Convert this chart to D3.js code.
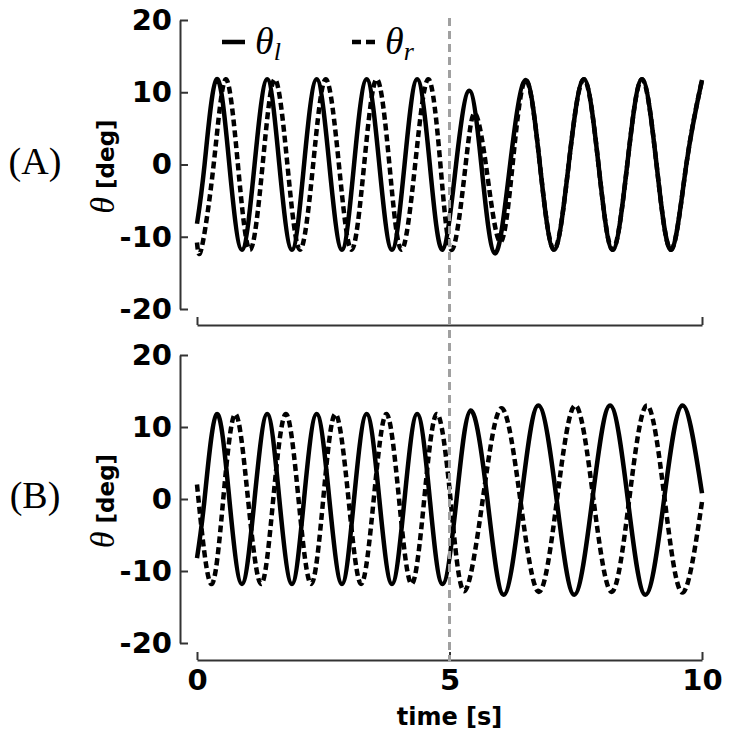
<!DOCTYPE html>
<html>
<head>
<meta charset="utf-8">
<script src="https://cdn.jsdelivr.net/npm/d3@7"></script>
<style>
body { margin: 0; background: #fff; }
.tick text { font-family: "DejaVu Sans"; font-weight: bold; font-size: 29px; fill: #000; }
.domain, .tick line { stroke: #333; stroke-width: 2; }
</style>
</head>
<body>
<svg id="chart" width="729" height="738"></svg>
<script>

/// Data (extrema and zero crossings)

var timeTicks = [0, 5, 10];
var thetaTicks = [-20, -10, 0, 10, 20];
var switchTime = 5;

// panel (A), theta_l
var aLeftT = [0, 0.15, 0.39, 0.64, 0.89, 1.14, 1.39, 1.63, 1.88, 2.12, 2.37, 2.62, 2.87, 3.11, 3.36, 3.61, 3.86, 4.11, 4.36, 4.61, 4.86,
  5.13, 5.39, 5.63, 5.90, 6.20, 6.51, 6.79, 7.07, 7.36, 7.66, 7.95, 8.23, 8.52, 8.81, 9.10, 9.39, 9.69, 10.0];
var aLeftTheta = [-8.2, 0, 11.8, 0, -11.8, 0, 11.8, 0, -11.8, 0, 11.8, 0, -11.8, 0, 11.8, 0, -11.8, 0, 11.8, 0, -11.8,
  0, 10.2, 0, -12.3, 0, 11.7, 0, -11.8, 0, 11.8, 0, -11.8, 0, 11.8, 0, -11.8, 0, 11.7];

// panel (A), theta_r
var aRightT = [0, 0.09, 0.33, 0.57, 0.81, 1.05, 1.30, 1.54, 1.79, 2.04, 2.30, 2.55, 2.81, 3.06, 3.31, 3.56, 3.81, 4.05, 4.32, 4.58, 4.82,
  5.05, 5.32, 5.50, 5.72, 6.00, 6.25, 6.51, 6.79, 7.07, 7.36, 7.66, 7.95, 8.23, 8.52, 8.81, 9.10, 9.39, 9.69, 10.0];
var aRightTheta = [-10.8, -11.6, 0, 11.8, 0, -11.8, 0, 11.8, 0, -11.8, 0, 11.8, 0, -11.8, 0, 11.8, 0, -11.8, 0, 11.8, 0,
  -11.8, 0, 7.1, 0, -10.7, 0, 11.7, 0, -11.8, 0, 11.8, 0, -11.8, 0, 11.8, 0, -11.8, 0, 11.7];

// panel (B), theta_l
var bLeftT = [0, 0.15, 0.39, 0.64, 0.89, 1.14, 1.39, 1.63, 1.88, 2.12, 2.37, 2.62, 2.87, 3.11, 3.36, 3.61, 3.86, 4.11, 4.36, 4.61, 4.86,
  5.14, 5.42, 5.75, 6.07, 6.42, 6.76, 7.12, 7.47, 7.83, 8.18, 8.53, 8.88, 9.25, 9.61, 10.0];
var bLeftTheta = [-8.2, 0, 11.8, 0, -11.8, 0, 11.8, 0, -11.8, 0, 11.8, 0, -11.8, 0, 11.8, 0, -11.8, 0, 11.8, 0, -11.8,
  0, 12.3, 0, -13.3, 0, 13.0, 0, -13.3, 0, 13.0, 0, -13.3, 0, 13.0, 0.8];

// panel (B), theta_r
var bRightT = [0, 0.28, 0.52, 0.76, 1.01, 1.27, 1.51, 1.76, 2.01, 2.26, 2.50, 2.74, 3.00, 3.25, 3.50, 3.75, 4.00, 4.25, 4.50, 4.75,
  5.02, 5.29, 5.66, 6.03, 6.40, 6.77, 7.13, 7.49, 7.85, 8.21, 8.56, 8.91, 9.26, 9.61, 10.0];
var bRightTheta = [2.0, -11.8, 0, 11.8, 0, -11.8, 0, 11.8, 0, -11.8, 0, 11.8, 0, -11.8, 0, 11.8, 0, -11.8, 0, 11.8,
  0, -12.8, 0, 12.6, 0, -12.9, 0, 13.0, 0, -12.9, 0, 13.0, 0, -13.0, -0.4];


/// Scales

var svg = d3.select("#chart");
svg.append("rect").attr("width", 729).attr("height", 738).attr("fill", "#fff");

var x = d3.scaleLinear().domain([0, 10]).range([197, 702]);
var yA = d3.scaleLinear().domain([-20, 20]).range([309, 20]);
var yB = d3.scaleLinear().domain([-20, 20]).range([643, 355]);

function zipSeries(ts, vals){
	return ts.map(function(t, i){ return [t, vals[i]]; });
}

// plain hyphen for negatives, like the original figure
function tickText(d){
	return String(d);
}


/// Panels

function drawPanel(y, axisY, name, leftSeries, rightSeries, showTimeLabels){
	var g = svg.append("g");

	// y axis, ticks pointing inwards
	g.append("g")
		.attr("transform", "translate(180,0)")
		.call(d3.axisLeft(y).tickValues(thetaTicks).tickFormat(tickText).tickSizeInner(-8).tickSizeOuter(0).tickPadding(8));

	// detached x axis
	var xAxis = d3.axisBottom(x).tickValues(timeTicks).tickSizeInner(-8).tickSizeOuter(0).tickPadding(9).tickFormat(tickText);
	if(!showTimeLabels){
		xAxis.tickFormat("");
	}
	g.append("g")
		.attr("transform", "translate(0," + axisY + ")")
		.call(xAxis);

	var line = d3.line()
		.x(function(d){ return x(d[0]); })
		.y(function(d){ return y(d[1]); })
		.curve(d3.curveNatural);

	g.append("path")
		.attr("d", line(leftSeries))
		.attr("fill", "none")
		.attr("stroke", "#000")
		.attr("stroke-width", 4.5)
		.attr("stroke-linejoin", "round");

	g.append("path")
		.attr("d", line(rightSeries))
		.attr("fill", "none")
		.attr("stroke", "#000")
		.attr("stroke-width", 4.5)
		.attr("stroke-dasharray", "7,4");

	// y label
	var mid = y(0) + 2;
	var lab = g.append("text")
		.attr("transform", "translate(114," + mid + ") rotate(-90)")
		.attr("text-anchor", "middle");
	lab.append("tspan")
		.attr("font-family", "'Liberation Serif'")
		.attr("font-style", "italic")
		.attr("font-size", 34)
		.text("θ");
	lab.append("tspan")
		.attr("font-family", "'DejaVu Sans'")
		.attr("font-weight", "bold")
		.attr("font-size", 23)
		.text(" [deg]");

	// panel letter
	g.append("text")
		.attr("x", 35)
		.attr("y", y(0) + 9)
		.attr("text-anchor", "middle")
		.attr("font-family", "'Liberation Serif'")
		.attr("font-size", 38)
		.text(name);
}

drawPanel(yA, 325, "(A)", zipSeries(aLeftT, aLeftTheta), zipSeries(aRightT, aRightTheta), false);
drawPanel(yB, 660, "(B)", zipSeries(bLeftT, bLeftTheta), zipSeries(bRightT, bRightTheta), true);

svg.append("text")
	.attr("x", x(5))
	.attr("y", 725)
	.attr("text-anchor", "middle")
	.attr("font-family", "'DejaVu Sans'")
	.attr("font-weight", "bold")
	.attr("font-size", 24)
	.text("time [s]");


/// Legend

function legendItem(x0, dash, sub){
	svg.append("line")
		.attr("x1", x0).attr("x2", x0 + 23)
		.attr("y1", 42).attr("y2", 42)
		.attr("stroke", "#000")
		.attr("stroke-width", 4.5)
		.attr("stroke-dasharray", dash);
	var t = svg.append("text")
		.attr("x", x0 + 33)
		.attr("y", 54)
		.attr("font-family", "'Liberation Serif'")
		.attr("font-style", "italic")
		.attr("font-size", 38);
	t.append("tspan").text("θ");
	t.append("tspan").attr("font-size", 26).attr("dy", 6).text(sub);
}

legendItem(222, null, "l");
legendItem(352, "9,5", "r");


/// switch marker at t = 5

svg.append("line")
	.attr("x1", x(switchTime)).attr("x2", x(switchTime))
	.attr("y1", 18).attr("y2", 662)
	.attr("stroke", "#a0a0a0")
	.attr("stroke-width", 3)
	.attr("stroke-dasharray", "8,5");

</script>
</body>
</html>
